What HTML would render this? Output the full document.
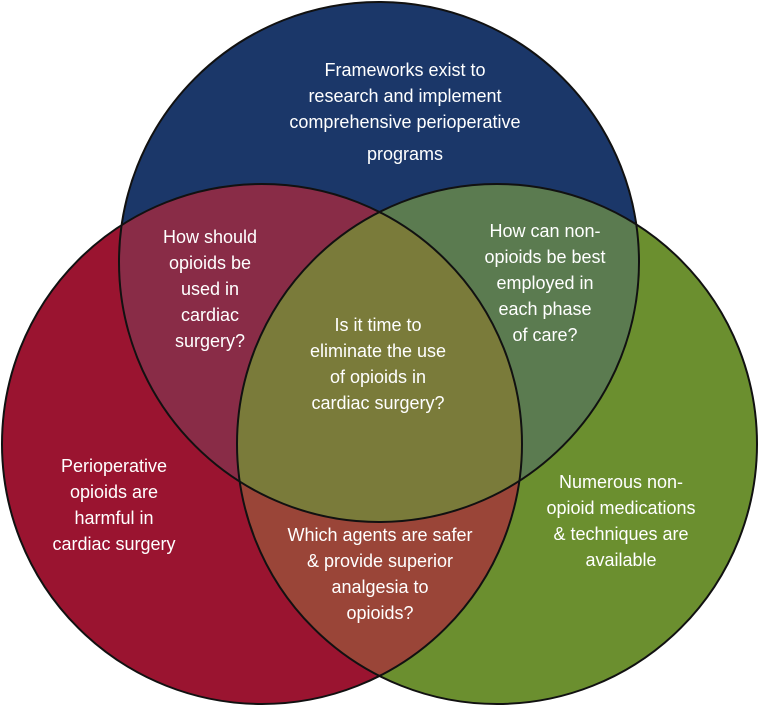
<!DOCTYPE html>
<html><head><meta charset="utf-8"><style>html,body{margin:0;padding:0;background:#fff}svg{display:block}</style></head>
<body>
<svg width="760" height="706" viewBox="0 0 760 706" xmlns="http://www.w3.org/2000/svg">
<defs>
<clipPath id="cT"><circle cx="379" cy="262" r="260"/></clipPath>
<clipPath id="cL"><circle cx="262" cy="444" r="260"/></clipPath>
<clipPath id="cR"><circle cx="497" cy="444" r="260"/></clipPath>
</defs>
<circle cx="379" cy="262" r="260" fill="#1b3769"/>
<circle cx="262" cy="444" r="260" fill="#9a1430"/>
<circle cx="497" cy="444" r="260" fill="#6b8f2f"/>
<g clip-path="url(#cT)"><circle cx="262" cy="444" r="260" fill="#892c47"/><circle cx="497" cy="444" r="260" fill="#5b7b50"/></g>
<g clip-path="url(#cL)"><circle cx="497" cy="444" r="260" fill="#9a4538"/></g>
<g clip-path="url(#cT)"><g clip-path="url(#cL)"><circle cx="497" cy="444" r="260" fill="#7a7b3a"/></g></g>
<g fill="none" stroke="#111" stroke-width="2">
<circle cx="379" cy="262" r="260"/><circle cx="262" cy="444" r="260"/><circle cx="497" cy="444" r="260"/>
</g>
<g fill="#fff" font-family="Liberation Sans, sans-serif" font-size="18" text-anchor="middle">
<text x="405" y="76">Frameworks exist to</text>
<text x="405" y="102">research and implement</text>
<text x="405" y="128">comprehensive perioperative</text>
<text x="405" y="160">programs</text>
<text x="210" y="243">How should</text>
<text x="210" y="269">opioids be</text>
<text x="210" y="295">used in</text>
<text x="210" y="321">cardiac</text>
<text x="210" y="347">surgery?</text>
<text x="545" y="237">How can non-</text>
<text x="545" y="263">opioids be best</text>
<text x="545" y="289">employed in</text>
<text x="545" y="315">each phase</text>
<text x="545" y="341">of care?</text>
<text x="378" y="331">Is it time to</text>
<text x="378" y="357">eliminate the use</text>
<text x="378" y="383">of opioids in</text>
<text x="378" y="409">cardiac surgery?</text>
<text x="114" y="472">Perioperative</text>
<text x="114" y="498">opioids are</text>
<text x="114" y="524">harmful in</text>
<text x="114" y="550">cardiac surgery</text>
<text x="621" y="488">Numerous non-</text>
<text x="621" y="514">opioid medications</text>
<text x="621" y="540">&amp; techniques are</text>
<text x="621" y="566">available</text>
<text x="380" y="541">Which agents are safer</text>
<text x="380" y="567">&amp; provide superior</text>
<text x="380" y="593">analgesia to</text>
<text x="380" y="619">opioids?</text>
</g>
</svg>
</body></html>
